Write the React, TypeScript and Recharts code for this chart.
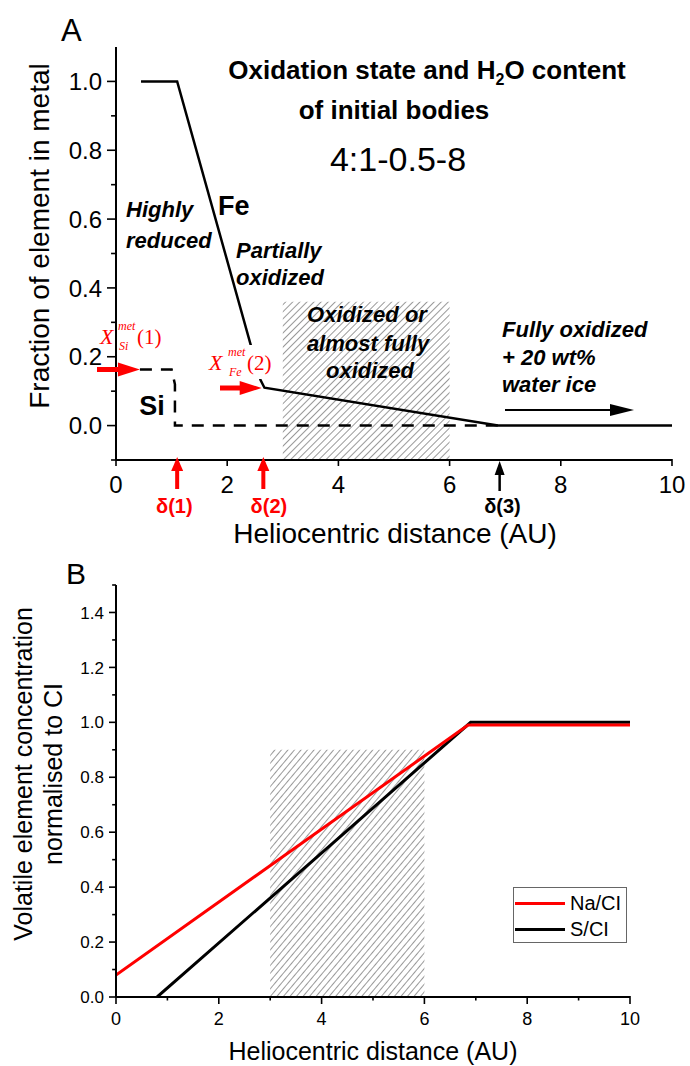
import { LineChart, Line, XAxis, YAxis, ReferenceArea, Legend } from 'recharts';

// ---- panel A: fraction of element in metal
const feX = [0.45, 1.1, 2.6, 2.67, 6.87, 10];
const feY = [1.0, 1.0, 0.132, 0.11, 0.0, 0.0];
const siX = [0.43, 1.0, 1.06, 1.06, 6.9];
const siY = [0.163, 0.163, 0.12, 0.0, 0.0];
const aXTicks = [0, 2, 4, 6, 8, 10];
const aYMajor = [0, 0.2, 0.4, 0.6, 0.8, 1.0];
const aYMinor = [-0.1, 0.1, 0.3, 0.5, 0.7, 0.9];

// ---- panel B: volatile element concentration
const naX = [0, 6.85, 10];
const naY = [0.08, 0.99, 0.99];
const sX = [0.8, 6.9, 10];
const sY = [0.0, 1.0, 1.0];
const bXMajor = [0, 2, 4, 6, 8, 10];
const bXMinor = [1, 3, 5, 7, 9];
const bYMajor = [0, 0.2, 0.4, 0.6, 0.8, 1.0, 1.2, 1.4];
const bYMinor = [0.1, 0.3, 0.5, 0.7, 0.9, 1.1, 1.3, 1.5];
const legendOrder = ['Na/CI', 'S/CI'];

const FONT = '"Liberation Sans", Arial, Helvetica, sans-serif';
const SERIF = '"Liberation Serif", "Times New Roman", serif';
const RED = '#ff0000';

const zip = (xs: number[], ys: number[]) => xs.map((x, i) => ({ x, y: ys[i] }));
const near = (arr: number[], v: number) => arr.some((a) => Math.abs(a - v) < 1e-6);

// plot box of panel A in page pixels (used only to place annotations)
const A = { left: 116, right: 672, top: 47, bottom: 460, xMin: 0, xMax: 10, yMin: -0.1, yMax: 1.1 };
const ax = (v: number) => A.left + ((v - A.xMin) / (A.xMax - A.xMin)) * (A.right - A.left);
const ay = (v: number) => A.bottom - ((v - A.yMin) / (A.yMax - A.yMin)) * (A.bottom - A.top);

const yTick = (major: number[], len: number, fs: number) => (p: any) => {
  const v = p.payload.value;
  const big = near(major, v);
  return (
    <g>
      <line x1={p.x} x2={p.x - (big ? len : len * 0.55)} y1={p.y} y2={p.y} stroke="#000" strokeWidth={1.6} />
      {big && (
        <text x={p.x - len - 5} y={p.y} dy="0.36em" textAnchor="end" fontSize={fs} fontFamily={FONT} fill="#000">
          {v.toFixed(1)}
        </text>
      )}
    </g>
  );
};

const xTick = (major: number[], len: number, fs: number, gap: number) => (p: any) => {
  const v = p.payload.value;
  const big = near(major, v);
  return (
    <g>
      <line x1={p.x} x2={p.x} y1={p.y - 1} y2={p.y + (big ? len : len * 0.5)} stroke="#000" strokeWidth={1.6} />
      {big && (
        <text x={p.x} y={p.y + gap} textAnchor="middle" fontSize={fs} fontFamily={FONT} fill="#000">
          {v}
        </text>
      )}
    </g>
  );
};

const LegendBox = (props: any) => {
  const items = [...(props.payload || [])].sort(
    (a: any, b: any) => legendOrder.indexOf(a.value) - legendOrder.indexOf(b.value)
  );
  return (
    <div style={{ border: '1px solid #666', background: '#fff', width: 114, height: 56, boxSizing: 'border-box', paddingTop: 2 }}>
      {items.map((it: any) => (
        <div key={it.value} style={{ display: 'flex', alignItems: 'center', height: 26, fontFamily: FONT, fontSize: 20 }}>
          <span style={{ display: 'inline-block', width: 50, height: 3, background: it.color, marginLeft: 1, marginRight: 5 }} />
          <span>{it.value}</span>
        </div>
      ))}
    </div>
  );
};

const upArrow = (x: number, tip: number, tail: number, color: string, w: number, hw: number) => (
  <g>
    <line x1={x} x2={x} y1={tip + 10} y2={tail} stroke={color} strokeWidth={w} />
    <polygon points={`${x - hw},${tip + 14} ${x},${tip} ${x + hw},${tip + 14}`} fill={color} />
  </g>
);

const rightArrow = (x0: number, x1: number, y: number, color: string, w: number, hw: number, hl: number) => (
  <g>
    <line x1={x0} x2={x1 - hl + 2} y1={y} y2={y} stroke={color} strokeWidth={w} />
    <polygon points={`${x1 - hl},${y - hw} ${x1},${y} ${x1 - hl},${y + hw}`} fill={color} />
  </g>
);

export default function App() {
  const feData = zip(feX, feY);
  const siData = zip(siX, siY);
  const naData = zip(naX, naY);
  const sData = zip(sX, sY);
  const ital = { fontFamily: FONT, fontWeight: 700, fontStyle: 'italic', fontSize: 22 } as const;

  return (
    <div style={{ position: 'absolute', left: 0, top: 0, width: 690, height: 1066, background: '#fff', fontFamily: FONT }}>
      <div style={{ position: 'absolute', left: 0, top: 0 }}>
        <LineChart width={690} height={540} margin={{ top: 47, right: 18, left: 56, bottom: 40 }}>
          <defs>
            <pattern id="hatchA" patternUnits="userSpaceOnUse" width={5} height={5} patternTransform="rotate(45)">
              <line x1={0} y1={0} x2={0} y2={5} stroke="#333" strokeWidth={1} />
            </pattern>
          </defs>
          <XAxis
            type="number" dataKey="x" domain={[0, 10]} ticks={aXTicks} interval={0} allowDataOverflow
            height={40} axisLine={{ stroke: '#000', strokeWidth: 2 }} tickLine={false} tickSize={0} tickMargin={0}
            tick={xTick(aXTicks, 6, 24, 33)}
          />
          <YAxis
            type="number" domain={[-0.1, 1.1]} ticks={[...aYMinor, ...aYMajor].sort((a, b) => a - b)} interval={0}
            allowDataOverflow width={60} axisLine={{ stroke: '#000', strokeWidth: 2 }} tickLine={false} tickSize={0}
            tickMargin={0} tick={yTick(aYMajor, 9, 24)}
          />
          <ReferenceArea x1={3} x2={6} y1={-0.1} y2={0.36} fill="url(#hatchA)" fillOpacity={1} stroke="none" />
          <Line data={siData} dataKey="y" type="linear" stroke="#000" strokeWidth={2.5} strokeDasharray="12 9" dot={false} isAnimationActive={false} />
          <Line data={feData} dataKey="y" type="linear" stroke="#000" strokeWidth={2.5} dot={false} isAnimationActive={false} />
        </LineChart>
      </div>

      <div style={{ position: 'absolute', left: 0, top: 540 }}>
        <LineChart width={690} height={526} margin={{ top: 45, right: 60, left: 56, bottom: 29 }}>
          <defs>
            <pattern id="hatchB" patternUnits="userSpaceOnUse" width={5} height={5} patternTransform="rotate(40)">
              <line x1={0} y1={0} x2={0} y2={5} stroke="#333" strokeWidth={1} />
            </pattern>
          </defs>
          <XAxis
            type="number" dataKey="x" domain={[0, 10]} ticks={[...bXMajor, ...bXMinor].sort((a, b) => a - b)} interval={0}
            allowDataOverflow height={40} axisLine={{ stroke: '#000', strokeWidth: 2 }} tickLine={false} tickSize={0}
            tickMargin={0} tick={xTick(bXMajor, 7, 18, 28)}
          />
          <YAxis
            type="number" domain={[0, 1.5]} ticks={[...bYMajor, ...bYMinor].sort((a, b) => a - b)} interval={0}
            allowDataOverflow width={60} axisLine={{ stroke: '#000', strokeWidth: 2 }} tickLine={false} tickSize={0}
            tickMargin={0} tick={yTick(bYMajor, 7, 17)}
          />
          <ReferenceArea x1={3} x2={6} y1={0} y2={0.9} fill="url(#hatchB)" fillOpacity={1} stroke="none" />
          <Line data={sData} name="S/CI" dataKey="y" type="linear" stroke="#000" strokeWidth={3} dot={false} isAnimationActive={false} />
          <Line data={naData} name="Na/CI" dataKey="y" type="linear" stroke={RED} strokeWidth={3} dot={false} isAnimationActive={false} />
          <Legend
            layout="vertical" align="center" verticalAlign="middle" content={<LegendBox />}
            wrapperStyle={{ left: 513, top: 347, width: 114, height: 56 }}
          />
        </LineChart>
      </div>

      <svg width={690} height={1066} style={{ position: 'absolute', left: 0, top: 0, pointerEvents: 'none' }} fontFamily={FONT}>
        {/* panel letters */}
        <text x={61} y={41} fontSize={31}>A</text>
        <text x={66} y={584} fontSize={30}>B</text>

        {/* panel A titles */}
        <text x={427} y={79} textAnchor="middle" fontSize={26} fontWeight={700}>
          Oxidation state and H<tspan fontSize={16} dy={6}>2</tspan><tspan dy={-6}>O content</tspan>
        </text>
        <text x={394} y={119} textAnchor="middle" fontSize={26} fontWeight={700}>of initial bodies</text>
        <text x={398} y={171} textAnchor="middle" fontSize={34}>4:1-0.5-8</text>

        {/* axis titles */}
        <text transform="rotate(-90 49 236)" x={49} y={236} textAnchor="middle" fontSize={28}>Fraction of element in metal</text>
        <text x={395} y={543} textAnchor="middle" fontSize={28}>Heliocentric distance (AU)</text>
        <text transform="rotate(-90 32 774)" x={32} y={774} textAnchor="middle" fontSize={25}>Volatile element concentration</text>
        <text transform="rotate(-90 62 774)" x={62} y={774} textAnchor="middle" fontSize={25}>normalised to CI</text>
        <text x={373} y={1060} textAnchor="middle" fontSize={25}>Heliocentric distance (AU)</text>

        {/* panel A region labels */}
        <text x={218} y={215} fontSize={27} fontWeight={700}>Fe</text>
        <text x={152} y={415} fontSize={27} fontWeight={700} textAnchor="middle">Si</text>
        <text x={126} y={217} {...ital}>Highly</text>
        <text x={126} y={248} {...ital}>reduced</text>
        <text x={236} y={258} {...ital}>Partially</text>
        <text x={236} y={285} {...ital}>oxidized</text>
        <text x={367} y={322} textAnchor="middle" {...ital}>Oxidized or</text>
        <text x={368} y={351} textAnchor="middle" {...ital}>almost fully</text>
        <text x={370} y={378} textAnchor="middle" {...ital}>oxidized</text>
        <text x={502} y={337} {...ital}>Fully oxidized</text>
        <text x={502} y={365} {...ital}>+ 20 wt%</text>
        <text x={502} y={392} {...ital}>water ice</text>
        {rightArrow(505, 634, 410, '#000', 2, 6, 24)}

        {/* X_met labels */}
        <text x={100} y={344} fill={RED} fontFamily={SERIF} fontSize={22} fontStyle="italic">X</text>
        <text x={118} y={330} fill={RED} fontFamily={SERIF} fontSize={12} fontStyle="italic">met</text>
        <text x={119} y={350} fill={RED} fontFamily={SERIF} fontSize={12} fontStyle="italic">Si</text>
        <text x={137} y={344} fill={RED} fontFamily={SERIF} fontSize={21}>(1)</text>
        {rightArrow(97, ax(0.43), ay(0.163), RED, 5, 7, 22)}

        <rect x={236} y={345} width={30} height={34} fill="#fff" />
        <text x={209} y={370} fill={RED} fontFamily={SERIF} fontSize={22} fontStyle="italic">X</text>
        <text x={228} y={356} fill={RED} fontFamily={SERIF} fontSize={12} fontStyle="italic">met</text>
        <text x={229} y={376} fill={RED} fontFamily={SERIF} fontSize={12} fontStyle="italic">Fe</text>
        <text x={247} y={370} fill={RED} fontFamily={SERIF} fontSize={21}>(2)</text>
        {rightArrow(220, ax(2.62), 388, RED, 5, 7, 22)}

        {/* delta markers */}
        {upArrow(ax(1.1), 457, 489, RED, 4, 6)}
        {upArrow(ax(2.65), 457, 489, RED, 4, 6)}
        {upArrow(ax(6.9), 461, 491, '#000', 2.5, 5)}
        <text x={ax(1.05)} y={513} textAnchor="middle" fill={RED} fontSize={20} fontWeight={700}>δ(1)</text>
        <text x={ax(2.75)} y={513} textAnchor="middle" fill={RED} fontSize={20} fontWeight={700}>δ(2)</text>
        <text x={ax(6.95)} y={513} textAnchor="middle" fill="#000" fontSize={20} fontWeight={700}>δ(3)</text>
      </svg>
    </div>
  );
}
